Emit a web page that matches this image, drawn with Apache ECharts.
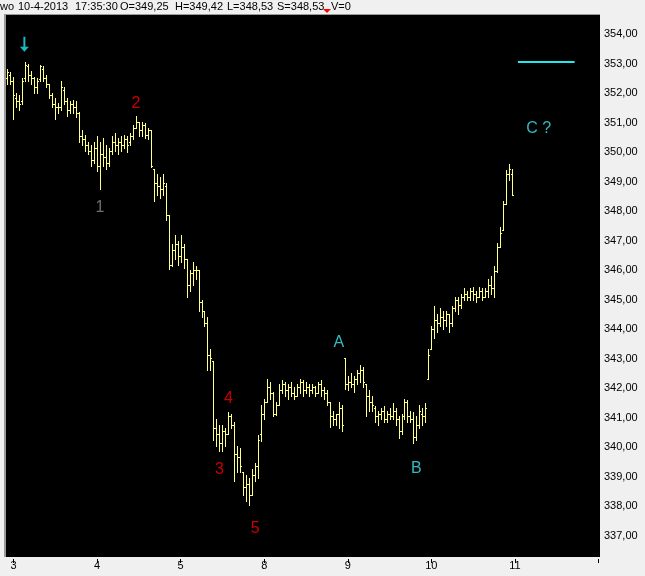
<!DOCTYPE html>
<html>
<head>
<meta charset="utf-8">
<script src="https://cdn.jsdelivr.net/npm/echarts@6/dist/echarts.min.js"></script>
<style>
html,body{margin:0;padding:0;background:#f0f0f0;}
#chart{width:645px;height:576px;}
</style>
</head>
<body>
<div id="chart"></div>
<script>
// ---- data (15-min OHLC bars, 3-10 April 2013) ----
var opens = [352.5,352.6,352.41,351.82,351.72,351.72,352.5,352.9,352.6,352.5,352.21,
352.46,352.8,352.5,352.31,351.92,351.62,351.52,351.52,352.11,351.72,
351.42,351.62,351.52,351.32,350.53,350.43,350.23,350.03,349.74,350.13,
349.54,349.94,349.84,349.64,350.03,350.33,350.23,350.33,350.23,350.43,
350.33,350.53,350.83,351.02,350.73,350.93,350.58,350.73,349.44,348.95,
348.85,348.75,348.85,347.86,346.17,346.67,346.87,346.47,346.77,346.37,
345.49,345.89,345.99,345.99,344.9,344.6,344.2,343.11,342.92,340.64,
340.44,340.14,340.54,340.44,341.04,340.74,339.75,339.65,339.15,338.66,
338.76,338.36,339.05,339.35,340.44,341.13,341.53,342.03,341.83,341.13,
341.43,341.93,342.12,341.93,342.03,341.83,341.73,342.03,342.22,341.93,
342.03,341.93,342.03,341.83,342.12,341.93,341.83,341.53,341.04,340.94,
341.13,341.33,343.01,342.12,342.22,342.12,342.32,342.52,342.62,342.12,
341.73,341.53,341.33,341.04,341.13,341.23,340.94,341.13,341.04,341.23,
340.94,340.54,341.04,341.53,341.04,340.94,340.34,340.74,341.13,341.04,
342.32,343.31,344.0,344.3,344.2,344.4,344.3,344.5,344.2,344.7,
344.99,344.8,345.09,345.19,345.09,345.29,345.19,345.09,345.29,345.09,
345.29,345.49,345.39,345.98,346.77,
347.36,348.25,349.24,349.25];
var highs = [352.8,
352.7,352.55,352.01,351.92,352.5,353.05,353.0,352.75,352.55,352.5,
352.95,352.9,352.6,352.31,352.01,351.82,351.67,352.41,352.21,351.82,
351.72,351.77,351.72,351.37,350.73,350.58,350.33,350.23,350.33,350.53,
350.33,350.48,350.23,350.13,350.53,350.63,350.48,350.53,350.58,350.53,
350.63,350.93,351.22,351.02,351.02,350.98,350.83,350.73,349.44,349.24,
349.14,349.24,348.95,347.86,346.87,347.17,346.97,347.17,346.87,346.37,
345.99,346.27,346.12,345.99,345.0,344.6,344.4,343.31,342.92,340.94,
340.74,340.74,340.64,341.18,341.13,340.84,340.05,339.95,339.15,339.06,
338.96,339.25,339.45,340.39,341.43,341.63,342.32,342.22,341.88,341.53,
342.12,342.27,342.22,342.12,342.22,342.03,342.12,342.32,342.27,342.22,
342.12,342.12,342.08,342.22,342.27,342.03,341.93,341.53,341.23,341.13,
341.53,341.43,343.01,342.42,342.52,342.42,342.62,342.77,342.72,342.12,
341.93,341.73,341.38,341.23,341.33,341.38,341.23,341.33,341.48,341.33,
341.04,341.13,341.63,341.58,341.23,341.18,341.04,341.43,341.33,341.48,
343.31,344.1,344.79,344.5,344.7,344.6,344.6,344.5,344.79,345.09,
345.09,345.19,345.39,345.29,345.39,345.44,345.29,345.44,345.39,345.39,
345.68,345.78,346.12,346.92,347.46,
348.35,349.39,349.58,349.42];
var lows = [352.31,
352.31,351.12,351.52,351.42,351.62,352.41,352.41,352.31,352.01,352.01,
352.41,352.41,352.21,351.82,351.52,351.12,351.32,351.42,351.62,351.22,
351.32,351.32,351.17,350.33,350.23,350.03,349.94,349.54,349.64,349.34,
348.75,349.54,349.44,349.54,349.94,350.03,349.94,350.03,350.13,350.01,
350.23,350.43,350.83,350.53,350.53,350.48,350.43,349.5,348.35,348.55,
348.45,348.55,347.71,346.03,346.13,346.37,346.17,346.27,346.07,345.09,
345.29,345.49,345.68,344.6,344.4,344.1,342.62,342.62,340.24,340.05,
339.85,339.85,340.05,340.44,340.64,338.86,339.15,339.15,338.36,338.17,
338.02,338.36,338.86,338.96,340.19,340.94,341.53,341.63,341.04,341.09,
341.43,341.83,341.73,341.63,341.73,341.63,341.73,341.83,341.73,341.83,
341.73,341.83,341.73,341.83,341.73,341.63,341.43,340.69,340.74,340.74,
340.64,340.54,341.98,341.93,342.03,341.88,342.12,342.22,342.03,341.04,
341.23,341.23,340.84,340.74,340.94,340.84,340.84,340.94,340.94,340.74,
340.29,340.44,340.94,340.84,340.84,340.14,340.24,340.64,340.74,340.84,
342.32,343.31,343.71,343.9,344.1,344.0,344.1,343.9,344.1,344.6,
344.5,344.7,344.99,344.99,344.99,344.99,344.9,345.09,344.99,345.09,
345.09,345.19,345.09,345.93,346.77,
347.36,348.25,349.05,348.53];
var closes = [352.7,
352.41,351.92,351.72,351.62,352.41,352.95,352.6,352.5,352.21,352.41,
352.9,352.5,352.31,351.92,351.62,351.52,351.52,352.21,351.72,351.42,
351.62,351.52,351.32,350.53,350.43,350.23,350.03,349.74,350.13,349.54,
349.94,349.84,349.64,350.03,350.33,350.23,350.33,350.23,350.43,350.23,
350.53,350.83,351.02,350.73,350.93,350.58,350.73,349.54,348.95,348.85,
348.75,348.95,347.86,346.17,346.67,346.87,346.47,346.77,346.37,345.49,
345.89,345.99,345.99,344.9,344.6,344.2,343.11,343.01,340.64,340.44,
340.14,340.54,340.44,341.04,340.74,339.75,339.65,339.35,338.66,338.76,
338.36,339.05,339.35,340.24,341.13,341.53,342.03,341.83,341.13,341.43,
341.93,342.12,341.93,342.03,341.83,341.73,342.03,342.22,341.93,342.03,
341.93,342.03,341.83,342.12,341.93,341.83,341.53,341.04,340.94,341.13,
341.33,340.74,342.12,342.22,342.12,342.32,342.52,342.62,342.22,341.73,
341.53,341.43,341.04,341.13,341.23,340.94,341.13,341.04,341.23,340.94,
340.54,341.04,341.53,341.04,340.94,340.34,340.74,341.23,341.04,341.33,
343.11,344.0,344.3,344.2,344.4,344.3,344.5,344.2,344.7,344.99,
344.8,345.09,345.19,345.09,345.29,345.19,345.09,345.29,345.09,345.29,
345.49,345.39,345.98,346.77,347.26,
348.25,349.24,349.44,348.53];

var totalSlots = 199;           // category slots on the time axis (incl. empty future)
var dayLabels = ['3','4','5','8','9','10','11'];
var firstDayTick = 2, barsPerDay = 28;
var yTickMin = 336, yTickMax = 355;

// wave-count annotations
var waveText  = ['1','2','3','4','5','A','B','C ?'];
var waveIndex = [31, 43, 71, 74, 83, 111, 137, 178];
var wavePrice = [348.11, 351.63, 339.25, 341.64, 337.24, 343.54, 339.27, 350.78];
var waveColor = ['#8a8a8a','#ff0000','#ff0000','#ff0000','#ff0000','#3ee6f0','#3ee6f0','#3ee6f0'];
var arrowIndex = 6, arrowPrice = 353.65;
var targetLine = {from: 171, to: 190, price: 353.05};

// ---- build ----
var cats = [];
for (var i = 0; i < totalSlots; i++) cats.push(String(i));
var ohlc = [];
for (var k = 0; k < opens.length; k++) ohlc.push([k, opens[k], highs[k], lows[k], closes[k]]);

function isDayTick(idx){ return idx >= firstDayTick && (idx - firstDayTick) % barsPerDay === 0; }

var BAR = '#ffff80';
function renderOHLC(params, api) {
  var idx = api.value(0);
  var x = api.coord([idx, api.value(2)])[0];
  var yH = api.coord([idx, api.value(2)])[1];
  var yL = api.coord([idx, api.value(3)])[1];
  var yO = Math.round(api.coord([idx, api.value(1)])[1]) + 0.5;
  var yC = Math.round(api.coord([idx, api.value(4)])[1]) + 0.5;
  var xr = Math.round(x) + 0.5;
  var st = {stroke: BAR, lineWidth: 1};
  return {type: 'group', children: [
    {type: 'line', shape: {x1: xr, y1: Math.round(yH), x2: xr, y2: Math.round(yL) + 1}, style: st},
    {type: 'line', shape: {x1: xr - 1.5, y1: yO, x2: xr, y2: yO}, style: st},
    {type: 'line', shape: {x1: xr, y1: yC, x2: xr + 1.5, y2: yC}, style: st}
  ]};
}

var waveData = [];
for (var w = 0; w < waveText.length; w++) {
  waveData.push({value: [waveIndex[w], wavePrice[w]],
    label: {formatter: waveText[w], color: waveColor[w]}});
}

var FONT = '"Liberation Sans", Arial, sans-serif';
var chart = echarts.init(document.getElementById('chart'), null, {renderer: 'canvas'});
chart.setOption({
  backgroundColor: '#f0f0f0',
  animation: false,
  grid: {left: 6, right: 45, top: 4.5, bottom: 11, containLabel: false},
  xAxis: {
    type: 'category', data: cats, boundaryGap: true, offset: -6,
    axisLine: {show: false},
    axisTick: {show: true, alignWithLabel: true, length: 4, lineStyle: {color: '#000'},
      interval: function(i){ return isDayTick(i); }},
    axisLabel: {show: true, margin: 1, fontSize: 11, fontFamily: FONT, color: '#000',
      interval: function(i){ return isDayTick(i); },
      formatter: function(v, i){ return isDayTick(i) ? dayLabels[(i - firstDayTick) / barsPerDay] : ''; }},
    splitLine: {show: false}
  },
  yAxis: {
    type: 'value', position: 'right', min: yTickMin, max: yTickMax, interval: 1,
    axisLine: {show: false}, axisTick: {show: false}, splitLine: {show: false},
    axisLabel: {margin: 4, fontSize: 11, fontFamily: FONT, color: '#000',
      formatter: function(v){ return (v <= yTickMin || v >= yTickMax) ? '' : v.toFixed(2).replace('.', ','); }}
  },
  graphic: {elements: [
    {type: 'rect', shape: {x: 6, y: 15, width: 594, height: 542}, style: {fill: '#000'}, z: -5},
    {type: 'line', shape: {x1: 5, y1: 14, x2: 5, y2: 557}, style: {stroke: '#9a9a9a', lineWidth: 2}, z: -5},
    {type: 'line', shape: {x1: 4, y1: 14.5, x2: 600, y2: 14.5}, style: {stroke: '#9a9a9a', lineWidth: 1}, z: -5},
    {type: 'text', x: 0, y: 7, style: {text: 'wo', font: '11px ' + FONT, fill: '#000', textVerticalAlign: 'middle'}},
    {type: 'text', x: 18, y: 7, style: {text: '10-4-2013', font: '11px ' + FONT, fill: '#000', textVerticalAlign: 'middle'}},
    {type: 'text', x: 75, y: 7, style: {text: '17:35:30', font: '11px ' + FONT, fill: '#000', textVerticalAlign: 'middle'}},
    {type: 'text', x: 120, y: 7, style: {text: 'O=349,25', font: '11px ' + FONT, fill: '#000', textVerticalAlign: 'middle'}},
    {type: 'text', x: 175, y: 7, style: {text: 'H=349,42', font: '11px ' + FONT, fill: '#000', textVerticalAlign: 'middle'}},
    {type: 'text', x: 227, y: 7, style: {text: 'L=348,53', font: '11px ' + FONT, fill: '#000', textVerticalAlign: 'middle'}},
    {type: 'text', x: 277, y: 7, style: {text: 'S=348,53', font: '11px ' + FONT, fill: '#000', textVerticalAlign: 'middle'}},
    {type: 'polygon', shape: {points: [[323, 9], [331, 9], [327, 13]]}, style: {fill: '#ff0000'}},
    {type: 'text', x: 331, y: 7, style: {text: 'V=0', font: '11px ' + FONT, fill: '#000', textVerticalAlign: 'middle'}}
  ]},
  series: [
    {
      type: 'custom', name: 'OHLC', data: ohlc, renderItem: renderOHLC,
      encode: {x: 0, y: [1, 2, 3, 4]}, clip: false, z: 3
    },
    {
      type: 'scatter', name: 'waves', data: waveData, symbol: 'circle', symbolSize: 1,
      itemStyle: {color: 'rgba(0,0,0,0)'}, z: 4, silent: true,
      label: {show: true, position: 'inside', fontSize: 16, fontFamily: FONT},
      markLine: {
        silent: true, symbol: ['none', 'none'], label: {show: false},
        lineStyle: {color: '#22e8f0', width: 2, type: 'solid'},
        data: [[{coord: [targetLine.from, targetLine.price]}, {coord: [targetLine.to, targetLine.price]}]]
      }
    },
    {
      type: 'scatter', name: 'arrow', z: 4, silent: true,
      data: [[arrowIndex, arrowPrice]],
      symbol: 'path://M3.5,0H5.5V10H9L4.5,15L0,10H3.5Z', symbolSize: [9, 15], symbolOffset: [-1, 0],
      itemStyle: {color: '#22e8f0'}
    }
  ]
});
</script>
</body>
</html>
